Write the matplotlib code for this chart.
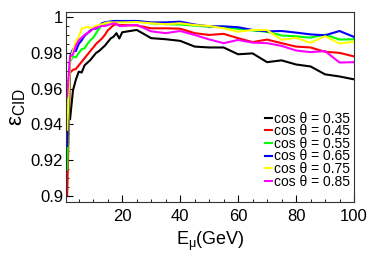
import matplotlib
matplotlib.use('Agg')
import matplotlib.pyplot as plt
from matplotlib.ticker import MultipleLocator, FuncFormatter

plt.rcParams['font.family'] = ['Liberation Sans', 'DejaVu Sans']
plt.rcParams['mathtext.fontset'] = 'custom'
plt.rcParams['mathtext.rm'] = 'Liberation Sans'
plt.rcParams['mathtext.it'] = 'Liberation Sans:italic'

# energy points (GeV): 1 GeV steps up to 20, then 5 GeV steps
e_low = list(range(1, 21))
e_high = list(range(25, 101, 5))
energy = e_low + e_high

# efficiency per cos(theta) bin
eff_035 = [0.943, 0.959, 0.965, 0.9695, 0.969, 0.973, 0.9745, 0.976, 0.978, 0.980,
           0.981, 0.9825, 0.984, 0.986, 0.988, 0.989, 0.991, 0.988, 0.9915,
           0.9928, 0.9882, 0.9876, 0.9867, 0.9835, 0.983, 0.983, 0.9792, 0.9797,
           0.9748, 0.9758, 0.9735, 0.9724, 0.968, 0.9668, 0.9652]
eff_045 = [0.9006, 0.969, 0.9705, 0.971, 0.973, 0.975, 0.977, 0.979, 0.981, 0.983,
           0.985, 0.9865, 0.988, 0.990, 0.9925, 0.994, 0.9955, 0.996, 0.9955, 0.9955,
           0.9953, 0.9937, 0.9937, 0.9935, 0.991, 0.990, 0.9906, 0.9882, 0.986,
           0.9874, 0.9854, 0.9835, 0.983, 0.9806, 0.980, 0.978]
eff_055 = [0.915, 0.975, 0.978, 0.9775, 0.980, 0.982, 0.9825, 0.985, 0.987, 0.9885,
           0.991, 0.9935, 0.9955, 0.9962, 0.997, 0.9975, 0.9975, 0.9976, 0.9977, 0.9977,
           0.9978, 0.9965, 0.996, 0.9958, 0.9952, 0.9946, 0.9946, 0.9934, 0.9925,
           0.9918, 0.9897, 0.9892, 0.9885, 0.9902, 0.9874, 0.9876]
eff_065 = [0.928, 0.978, 0.982, 0.981, 0.985, 0.987, 0.9895, 0.991, 0.9925, 0.9935,
           0.9935, 0.995, 0.9965, 0.997, 0.9973, 0.9975, 0.9978, 0.9978, 0.9978, 0.9978,
           0.9978, 0.997, 0.997, 0.9974, 0.9958, 0.9948, 0.9948, 0.9943, 0.9928,
           0.992, 0.9922, 0.9913, 0.9903, 0.9898, 0.9922, 0.9889]
eff_075 = [0.937, 0.976, 0.981, 0.9865, 0.989, 0.9935, 0.994, 0.9945, 0.994, 0.994,
           0.995, 0.9955, 0.996, 0.9965, 0.997, 0.997, 0.997, 0.997, 0.997, 0.997,
           0.9972, 0.9965, 0.996, 0.9965, 0.9955, 0.995, 0.9937, 0.9918, 0.9928,
           0.9927, 0.9873, 0.9884, 0.9856, 0.9893, 0.9852, 0.9862]
eff_085 = [0.9557, 0.978, 0.979, 0.984, 0.987, 0.9885, 0.990, 0.991, 0.992, 0.9935,
           0.994, 0.9945, 0.995, 0.995, 0.9955, 0.996, 0.9965, 0.9962, 0.995, 0.995,
           0.9956, 0.992, 0.991, 0.9922, 0.990, 0.9875, 0.9854, 0.9872, 0.9857,
           0.9854, 0.9839, 0.9813, 0.9804, 0.981, 0.9746, 0.9748]

series = [
    ('cos θ = 0.35', energy[1:], eff_035, 'black'),
    ('cos θ = 0.45', energy, eff_045, '#ff0000'),
    ('cos θ = 0.55', energy, eff_055, '#00ff00'),
    ('cos θ = 0.65', energy, eff_065, '#0000ff'),
    ('cos θ = 0.75', energy, eff_075, '#ffff00'),
    ('cos θ = 0.85', energy, eff_085, '#ff00ff'),
]

fig = plt.figure(figsize=(3.74, 2.54), dpi=100)
ax = fig.add_axes([0.1765, 0.2047, 0.77, 0.748])

for label, x, y, color in series:
    ax.plot(x, y, color=color, lw=1.5, label=label)

ax.set_xlim(0.6, 100)
ax.set_ylim(0.8967, 1.0028)

ax.xaxis.set_major_locator(MultipleLocator(20))
ax.xaxis.set_minor_locator(MultipleLocator(5))
ax.yaxis.set_major_locator(MultipleLocator(0.02))
ax.yaxis.set_minor_locator(MultipleLocator(0.005))
ax.yaxis.set_major_formatter(FuncFormatter(lambda v, p: '%g' % round(v, 3)))
ax.xaxis.set_major_formatter(FuncFormatter(lambda v, p: '' if v == 0 else '%g' % v))

ax.tick_params(which='both', direction='in', top=False, right=False, labelsize=12)
ax.tick_params(which='major', length=5)
ax.tick_params(which='minor', length=2.5)
ax.tick_params(axis='x', pad=5)
ax.tick_params(axis='y', pad=2)
for s in ax.spines.values():
    s.set_linewidth(0.8)
    s.set_color('#333333')

ax.set_xlabel('E$_{\\mathrm{μ}}$(GeV)', fontsize=13, labelpad=4)
ax.set_ylabel('ε$_{\\mathrm{CID}}$', fontsize=16, labelpad=2)

leg = ax.legend(loc='lower right', bbox_to_anchor=(0.985, 0.07), frameon=False,
                fontsize=10, handlelength=0.5, handletextpad=0.15,
                labelspacing=-0.1, borderpad=0, borderaxespad=0)

fig.savefig('out.png', dpi=100)
